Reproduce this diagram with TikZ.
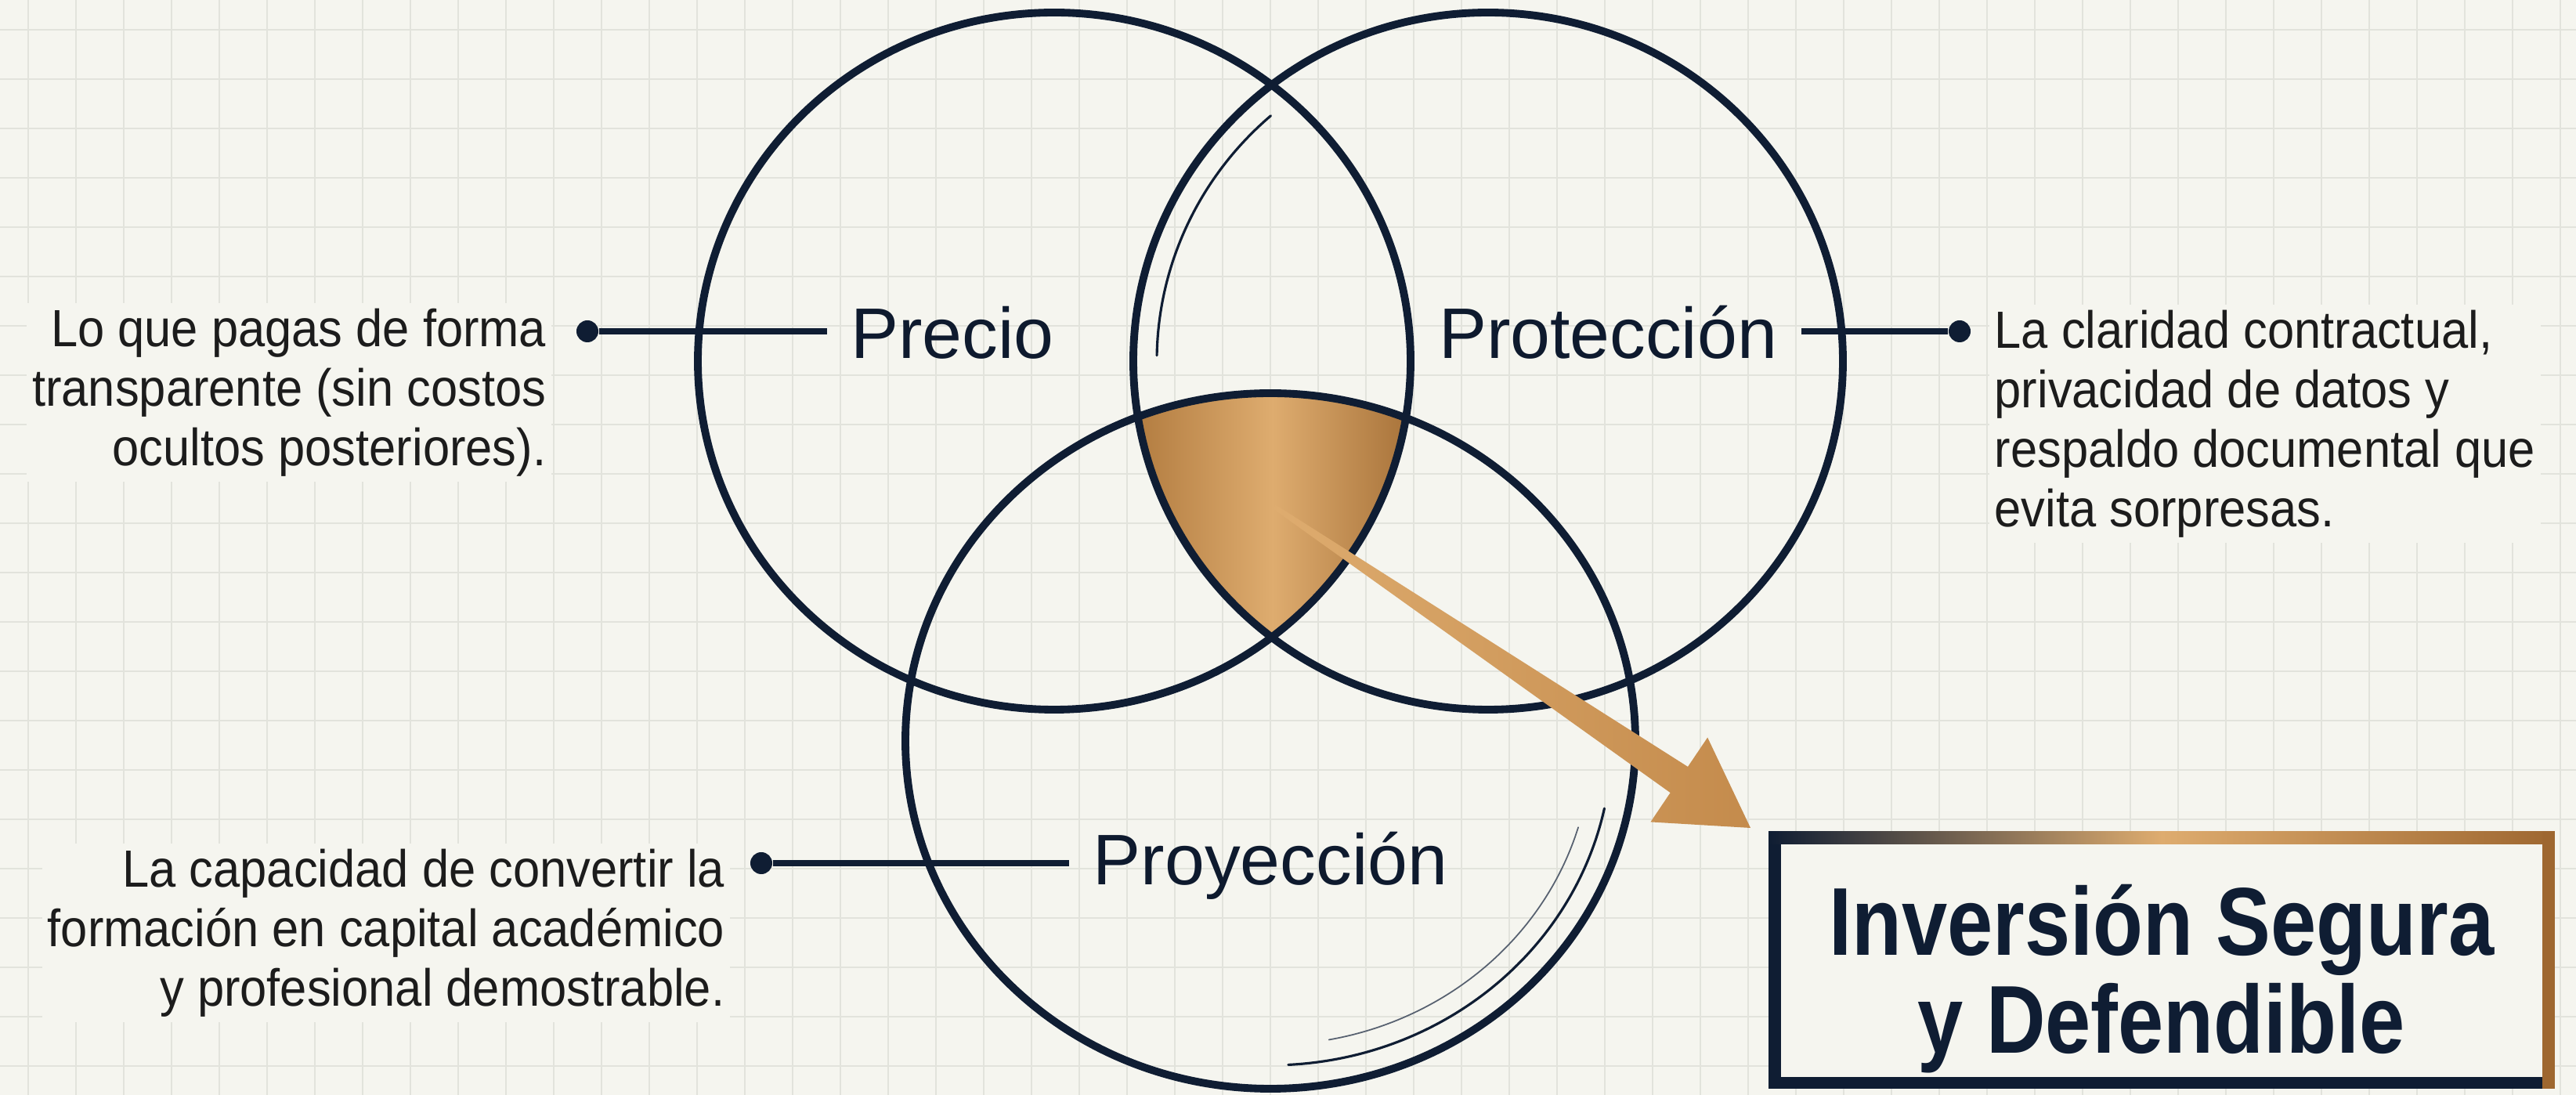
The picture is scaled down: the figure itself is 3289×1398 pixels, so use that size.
\documentclass[tikz,border=0pt]{standalone}
\usepackage{fontspec}
\setmainfont{Liberation Sans}
\newfontfamily\notefont{Liberation Sans}[FakeStretch=0.92]
\newfontfamily\goalfont{Liberation Sans}[FakeStretch=0.85]
\usetikzlibrary{calc,positioning}
\definecolor{paper}{HTML}{F5F5EF}
\definecolor{gridgray}{HTML}{E2E3DC}
\definecolor{ink}{HTML}{0F1D33}
\definecolor{bronzelight}{HTML}{DEAC6F}
\definecolor{bronzemid}{HTML}{C48B4C}
\definecolor{bronzedark}{HTML}{9E6730}
\definecolor{bronzeleft}{HTML}{B27C40}
\definecolor{bronzeright}{HTML}{A8733A}
\definecolor{notegray}{HTML}{1C1C1C}
\tikzset{
  ring/.style={draw=ink, line width=2.8pt},
  echo/.style={draw=ink, line width=0.9pt, line cap=round},
  faint echo/.style={draw=ink!70, line width=0.5pt, line cap=round},
  wire/.style={draw=ink, line width=2.4pt},
  dotnode/.style={circle, fill=ink, inner sep=0pt, minimum size=2.8mm},
  setlabel/.style={anchor=base, inner sep=3mm, text=ink!90!black,
    font=\fontsize{26pt}{30pt}\selectfont},
  notetext/.style={fill=paper, inner sep=2pt, text=notegray,
    font=\notefont\fontsize{19pt}{21.6pt}\selectfont},
  goalbox/.style={draw=ink, line width=4.5pt, fill=paper,
    minimum width=9.87cm, minimum height=3.13cm},
  goaltext/.style={align=center, text=ink, inner sep=0pt,
    font=\goalfont\bfseries\fontsize{35pt}{35.5pt}\selectfont},
  gridline/.style={draw=gridgray, line width=0.6pt}
}
\begin{document}
\begin{tikzpicture}[x=0.01cm, y=-0.01cm]
  % paper and grid
  \fill[paper] (0,0) rectangle (3289,1398);
  \useasboundingbox (0,0) rectangle (3289,1398);
  \foreach \gx in {36,97,...,3289} \draw[gridline] (\gx,0) -- (\gx,1398);
  \foreach \gy in {38,101,...,1398} \draw[gridline] (0,\gy) -- (3289,\gy);

  % centres of the three sets
  \coordinate (cP) at (1346,461);
  \coordinate (cR) at (1900,461);
  \coordinate (cY) at (1622,946);

  % shared core
  \begin{scope}
    \clip (cP) ellipse [x radius=455, y radius=445];
    \clip (cR) ellipse [x radius=453, y radius=445];
    \clip (cY) ellipse [x radius=466, y radius=444];
    \shade[left color=bronzeleft, right color=bronzeright, middle color=bronzelight]
      (1450,490) rectangle (1800,830);
  \end{scope}

  \draw[ring] (cP) ellipse [x radius=455, y radius=445];
  \draw[ring] (cR) ellipse [x radius=453, y radius=445];
  \draw[ring] (cY) ellipse [x radius=466, y radius=444];

  % inner echo arcs
  \draw[echo] ($(cR)+(-131:423 and 415)$) arc[start angle=-131, end angle=-179, x radius=423, y radius=415];
  \draw[echo] ($(cY)+(12:436 and 414)$) arc[start angle=12, end angle=87, x radius=436, y radius=414];
  \draw[faint echo] ($(cY)+(16.5:410 and 388)$) arc[start angle=16.5, end angle=79.5, x radius=410, y radius=388];

  % labels and leaders
  \node[dotnode] (dotP) at (750,423) {};
  \node[dotnode] (dotR) at (2502,423) {};
  \node[dotnode] (dotY) at (972,1102) {};
  \node[setlabel] (precio) at (1216,458) {Precio};
  \node[setlabel] (proteccion) at (2053,458) {Protección};
  \node[setlabel] (proyeccion) at (1622,1130) {Proyección};
  \draw[wire] (dotP) -- (dotP -| precio.west);
  \draw[wire] (dotR) -- (dotR -| proteccion.east);
  \draw[wire] (dotY) -- (dotY -| proyeccion.west);

  \node[notetext, anchor=north east, align=right] (notaP) at (705,386)
    {Lo que pagas de forma\\transparente (sin costos\\ocultos posteriores).};
  \node[notetext, anchor=north west, align=left] (notaR) at (2539,388)
    {La claridad contractual,\\privacidad de datos y\\respaldo documental que\\evita sorpresas.};
  \node[notetext, anchor=north east, align=right] (notaY) at (933,1076)
    {La capacidad de convertir la\\formación en capital académico\\y profesional demostrable.};

  % arrow to the result
  \coordinate (core) at (1627,647);
  \coordinate (tip) at (2235,1057);
  \coordinate (neck) at ($(core)!0.85!(tip)$);
  \shade[left color=bronzelight, right color=bronzemid]
    ($(core)!0.3mm!90:(tip)$) -- ($(neck)!2mm!90:(tip)$) -- ($(neck)!6.5mm!90:(tip)$)
    -- (tip) -- ($(neck)!6.5mm!-90:(tip)$) -- ($(neck)!2mm!-90:(tip)$)
    -- ($(core)!0.3mm!-90:(tip)$) -- cycle;

  % result box
  \node[goalbox] (goal) at (2760,1226) {};
  \shade[left color=ink, right color=bronzedark, middle color=bronzelight]
    (goal.north west) rectangle ($(goal.north east)+(0,16)$);
  \fill[bronzedark] ($(goal.north east)+(-16,0)$) rectangle (goal.south east);
  \node[goaltext] (goaltitle) at ($(goal.center)+(0,24)$) {Inversión Segura\\y Defendible};
\end{tikzpicture}
\end{document}
